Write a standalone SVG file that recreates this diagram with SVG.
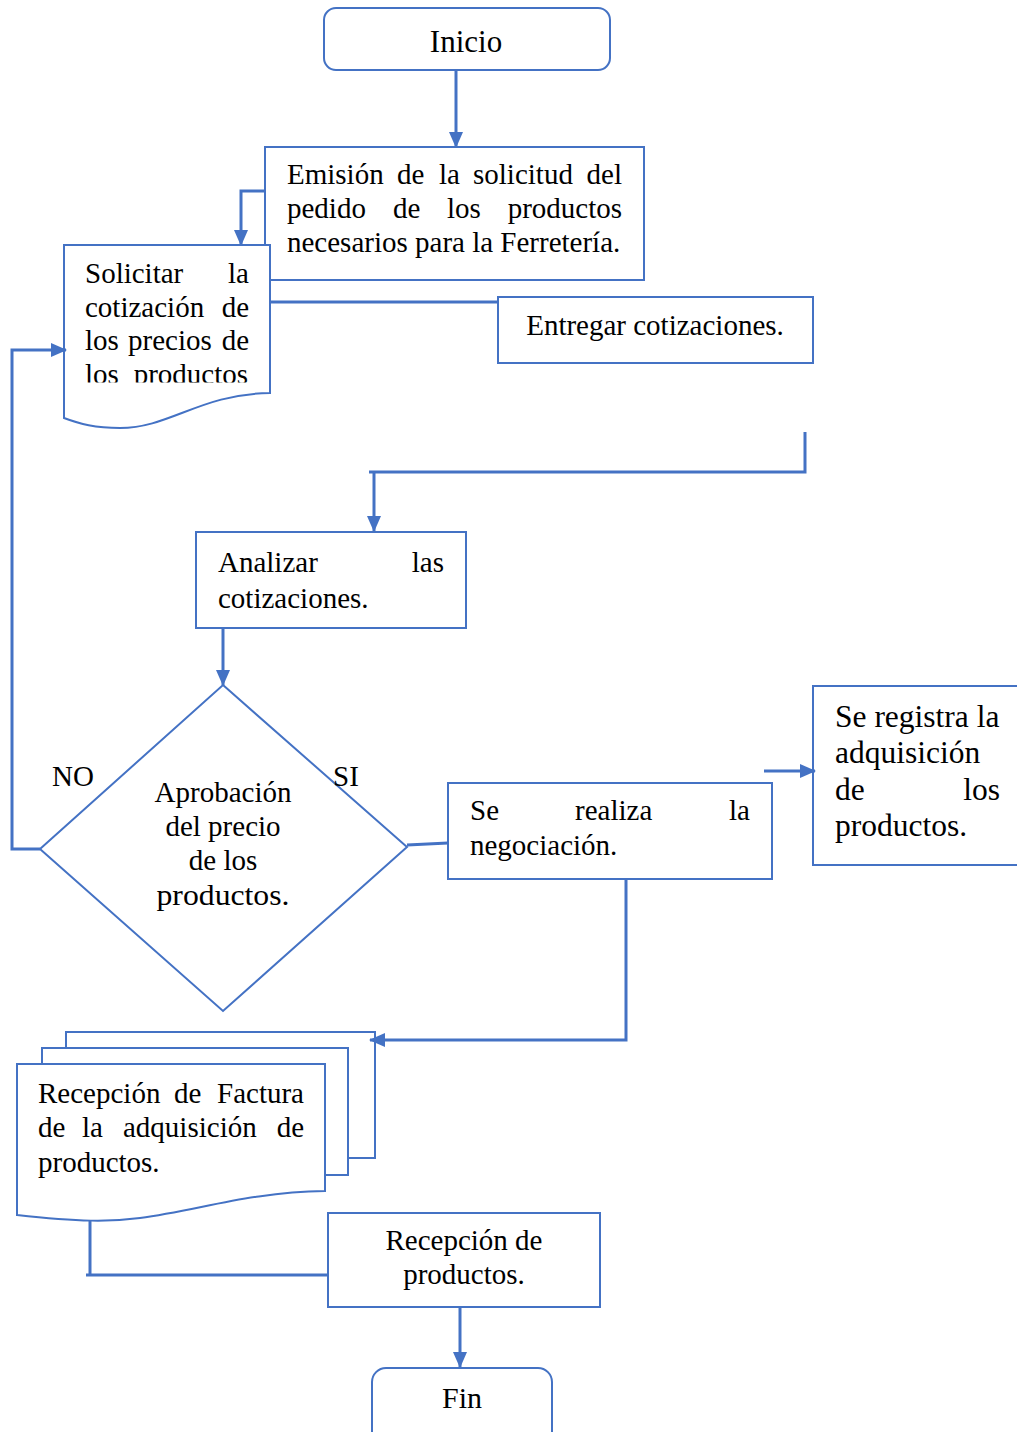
<svg xmlns="http://www.w3.org/2000/svg" width="1017" height="1432" viewBox="0 0 1017 1432">
<style>
.b{fill:#fff;stroke:#4472C4;stroke-width:2}
.c{fill:none;stroke:#4472C4;stroke-width:3}
.t{font-family:"Liberation Serif","Times New Roman",serif;font-size:29px;fill:#000}
.m{text-anchor:middle}
.e{text-anchor:end}
</style>
<defs>
<marker id="ah" markerUnits="userSpaceOnUse" markerWidth="16" markerHeight="16" viewBox="0 0 16 16" refX="15" refY="8" orient="auto">
<path d="M0,1 L16,8 L0,15 Z" fill="#4472C4"/>
</marker>
<clipPath id="clipSol"><rect x="64" y="245" width="206" height="137.5"/></clipPath>
</defs>
<rect width="1017" height="1432" fill="#fff"/>

<g id="inicio">
<rect class="b" x="324" y="8" width="286" height="62" rx="12"/>
<text class="t m" x="466" y="52" style="font-size:31px">Inicio</text>
</g>

<g id="emision">
<rect class="b" x="265" y="147" width="379" height="133"/>
<text class="t" y="184"><tspan x="287">Emisión</tspan><tspan x="397">de</tspan><tspan x="439">la</tspan><tspan x="473">solicitud</tspan><tspan x="622" text-anchor="end">del</tspan></text>
<text class="t" y="218"><tspan x="287">pedido</tspan><tspan x="393">de</tspan><tspan x="447">los</tspan><tspan x="622" text-anchor="end">productos</tspan></text>
<text class="t" x="287" y="252">necesarios para la Ferretería.</text>
</g>

<g id="solicitar">
<path class="b" d="M64,245 H270 V393 C200,394 170,428 120,428 C95,428 80,424 64,418 Z"/>
<g clip-path="url(#clipSol)">
<text class="t" y="283"><tspan x="85">Solicitar</tspan><tspan x="249" text-anchor="end">la</tspan></text>
<text class="t" y="317"><tspan x="85">cotización</tspan><tspan x="249" text-anchor="end">de</tspan></text>
<text class="t" y="350"><tspan x="85">los</tspan><tspan x="128">precios</tspan><tspan x="249" text-anchor="end">de</tspan></text>
<text class="t" y="383.5"><tspan x="85">los</tspan><tspan x="248" text-anchor="end">productos</tspan></text>
</g>
</g>

<g id="entregar">
<rect class="b" x="498" y="297" width="315" height="66"/>
<text class="t m" x="655" y="335">Entregar cotizaciones.</text>
</g>

<g id="analizar">
<rect class="b" x="196" y="532" width="270" height="96"/>
<text class="t" y="572"><tspan x="218">Analizar</tspan><tspan x="444" text-anchor="end">las</tspan></text>
<text class="t" x="218" y="608">cotizaciones.</text>
</g>

<g id="aprobacion">
<path class="b" d="M223,685 L407,847 L223,1011 L40,849 Z"/>
<text class="t m" x="223" y="802">Aprobación</text>
<text class="t m" x="223" y="836">del precio</text>
<text class="t m" x="223" y="870">de los</text>
<text class="t m" x="223" y="905" textLength="133" lengthAdjust="spacingAndGlyphs">productos.</text>
</g>

<g id="negociacion">
<rect class="b" x="448" y="783" width="324" height="96"/>
<text class="t" y="820"><tspan x="470">Se</tspan><tspan x="575">realiza</tspan><tspan x="750" text-anchor="end">la</tspan></text>
<text class="t" x="470" y="855">negociación.</text>
</g>

<g id="registra">
<rect class="b" x="813" y="686" width="210" height="179"/>
<g style="font-size:31.5px">
<text class="t" x="835" y="727" style="font-size:31.5px">Se registra la</text>
<text class="t" x="835" y="763" style="font-size:31.5px">adquisición</text>
<text class="t" y="800" style="font-size:31.5px"><tspan x="835">de</tspan><tspan x="1000" text-anchor="end">los</tspan></text>
<text class="t" x="835" y="836" style="font-size:31.5px">productos.</text>
</g>
</g>

<g id="factura">
<rect class="b" x="66" y="1032" width="309" height="126"/>
<rect class="b" x="42" y="1048" width="306" height="127"/>
<path class="b" d="M17,1064 H325 V1191 C250,1192 200,1210 140,1218 C110,1222 80,1222 17,1215 Z"/>
<text class="t" y="1103"><tspan x="38">Recepción</tspan><tspan x="174">de</tspan><tspan x="304" text-anchor="end">Factura</tspan></text>
<text class="t" y="1137"><tspan x="38">de</tspan><tspan x="82">la</tspan><tspan x="123">adquisición</tspan><tspan x="304" text-anchor="end">de</tspan></text>
<text class="t" x="38" y="1172">productos.</text>
</g>

<g id="recepcion">
<rect class="b" x="328" y="1213" width="272" height="94"/>
<text class="t m" x="464" y="1250">Recepción de</text>
<text class="t m" x="464" y="1284">productos.</text>
</g>

<g id="fin">
<rect class="b" x="372" y="1368" width="180" height="80" rx="14"/>
<text class="t m" x="462" y="1408" style="font-size:30px">Fin</text>
</g>

<g id="labels">
<text class="t" x="52" y="786">NO</text>
<text class="t" x="333" y="786">SI</text>
</g>

<g id="connectors">
<path class="c" d="M456,70 V147" marker-end="url(#ah)"/>
<path class="c" d="M265,191 H241 V245" marker-end="url(#ah)"/>
<path class="c" d="M270,302 H498"/>
<path class="c" d="M805,432 V472 H369"/>
<path class="c" d="M374,472 V531" marker-end="url(#ah)"/>
<path class="c" d="M223,628 V685" marker-end="url(#ah)"/>
<path class="c" d="M40,849 H12 V350 H66" marker-end="url(#ah)"/>
<path class="c" d="M407,845 L448,843"/>
<path class="c" d="M764,771 H815" marker-end="url(#ah)"/>
<path class="c" d="M626,879 V1040 H370" marker-end="url(#ah)"/>
<path class="c" d="M90,1221 V1275"/>
<path class="c" d="M86,1275 H328"/>
<path class="c" d="M460,1307 V1367" marker-end="url(#ah)"/>
</g>
</svg>
